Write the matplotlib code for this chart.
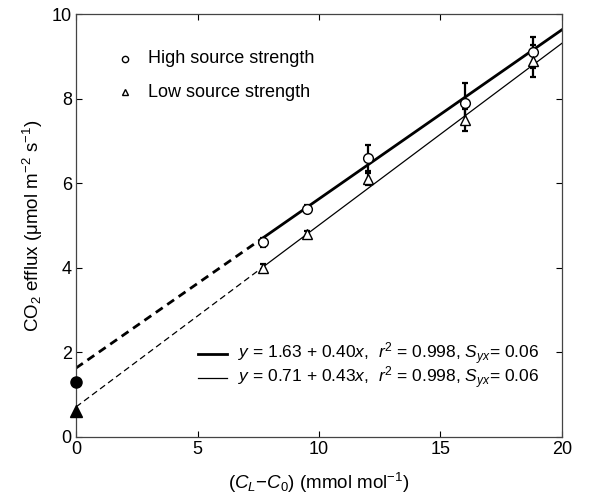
import matplotlib
matplotlib.use("Agg")
import matplotlib.pyplot as plt
import numpy as np

plt.rcParams['font.family'] = ['Liberation Sans', 'DejaVu Sans']
plt.rcParams['mathtext.fontset'] = 'custom'
plt.rcParams['mathtext.rm'] = 'Liberation Sans'
plt.rcParams['mathtext.it'] = 'Liberation Sans:italic'
plt.rcParams['mathtext.bf'] = 'Liberation Sans:bold'

x = [7.7, 9.5, 12.0, 16.0, 18.8]
high = [4.6, 5.4, 6.6, 7.9, 9.1]
high_err = [0.1, 0.08, 0.3, 0.47, 0.37]
low = [4.0, 4.8, 6.1, 7.5, 8.9]
low_err = [0.1, 0.08, 0.14, 0.26, 0.38]
high_fit = (1.63, 0.40)
low_fit = (0.71, 0.43)
high_intercept_obs = 1.3
low_intercept_obs = 0.62

fig = plt.figure(figsize=(5.94, 5.04), dpi=100)
ax = fig.add_axes([0.128, 0.133, 0.818, 0.839])

# fitted lines
xs_solid = np.array([x[0], 20.0])
xs_dash = np.array([0.0, x[0]])
a, b = high_fit
ax.plot(xs_solid, a + b * xs_solid, color='black', lw=2.0)
ax.plot(xs_dash, a + b * xs_dash, color='black', lw=2.0, ls=(0, (3, 2)))
a, b = low_fit
ax.plot(xs_solid, a + b * xs_solid, color='black', lw=0.9)
ax.plot(xs_dash, a + b * xs_dash, color='black', lw=0.9, ls=(0, (5, 3)))

ax.errorbar(x, high, yerr=high_err, fmt='o', mfc='white', mec='black', ms=7,
            ecolor='black', elinewidth=1.6, capsize=2.5, capthick=1.6, zorder=3)
ax.errorbar(x, low, yerr=low_err, fmt='^', mfc='white', mec='black', ms=7,
            ecolor='black', elinewidth=1.6, capsize=2.5, capthick=1.6, zorder=3)

ax.plot([0], [high_intercept_obs], 'o', color='black', ms=8, clip_on=False, zorder=4)
ax.plot([0], [low_intercept_obs], '^', color='black', ms=9, clip_on=False, zorder=4)

ax.set_xlim(0, 20)
ax.set_ylim(0, 10)
ax.set_xticks([0, 5, 10, 15, 20])
ax.set_yticks([0, 2, 4, 6, 8, 10])
ax.tick_params(direction='in', top=True, right=True, labelsize=13, length=4, width=0.8, pad=3)
for s in ax.spines.values():
    s.set_linewidth(0.9)
    s.set_color('#444444')

ax.set_xlabel(r'($C_L$$-$$C_0$) (mmol mol$^{-1}$)', fontsize=13.5, labelpad=9)
ax.set_ylabel(r'CO$_2$ efflux ($\mathrm{\mu}$mol m$^{-2}$ s$^{-1}$)', fontsize=13.5, labelpad=5)

# top-left legend
ax.plot([2.0], [8.95], 'o', mfc='white', mec='black', ms=4.5)
ax.plot([2.0], [8.15], '^', mfc='white', mec='black', ms=4.5)
ax.text(2.95, 8.95, 'High source strength', fontsize=13, va='center')
ax.text(2.95, 8.15, 'Low source strength', fontsize=13, va='center')

# bottom legend
ax.plot([5.0, 6.2], [1.97, 1.97], color='black', lw=2.0)
ax.plot([5.0, 6.2], [1.40, 1.40], color='black', lw=0.9)
ax.text(6.65, 1.97, r'$y$ = 1.63 + 0.40$x$,  $r^2$ = 0.998, $S_{yx}$= 0.06', fontsize=12.5, va='center')
ax.text(6.65, 1.40, r'$y$ = 0.71 + 0.43$x$,  $r^2$ = 0.998, $S_{yx}$= 0.06', fontsize=12.5, va='center')

fig.savefig('out.png', dpi=100)
